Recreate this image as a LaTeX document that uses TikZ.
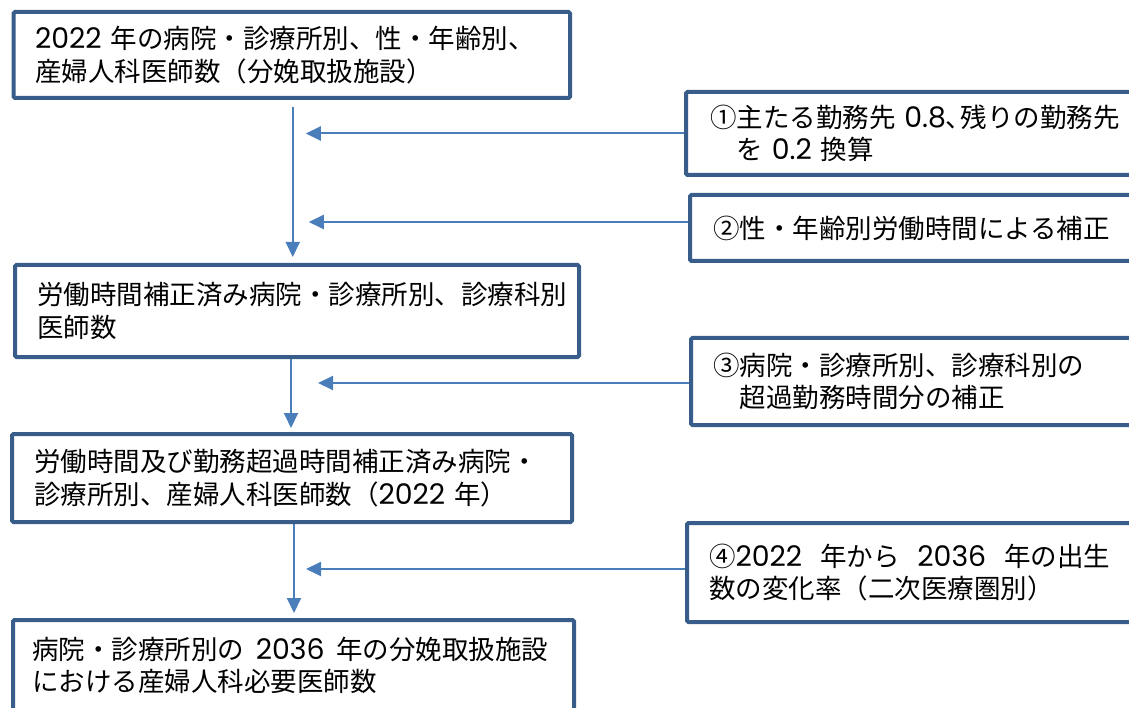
\documentclass[tikz,border=0pt]{standalone}
\usepackage{fontspec}
\setmainfont{Noto Sans CJK JP}
\newfontfamily\lat[Scale=1.07]{Poppins}
\usetikzlibrary{arrows.meta,calc}
\definecolor{bordc}{HTML}{385D8A}
\definecolor{arrc}{HTML}{4A7EBB}
\newcommand\nm[1]{{\lat #1}}
\begin{document}
\begin{tikzpicture}[x=1pt,y=-1pt,
  box/.style={draw=bordc, line width=4pt, fill=white, anchor=north west, align=left,
    inner ysep=0pt, outer sep=0pt, rounded corners=1.5pt, text=black,
    font=\fontsize{26.5}{32.5}\selectfont},
  flow/.style={draw=arrc, line width=2pt, -{Triangle[length=15pt,width=14pt]}}]
\useasboundingbox (0,0) rectangle (1129,708);

\node[box, minimum width=556.5pt, minimum height=86pt, inner xsep=21.5pt, text width=513.5pt] (a) at (13.5,12)
  {\nm{2022} 年の病院・診療所別、性・年齢別、\\産婦人科医師数（分娩取扱施設）};
\node[box, minimum width=470pt, minimum height=83pt, inner xsep=24pt, text width=422pt] (b1) at (686,92)
  {①主たる勤務先~\nm{0.8}、\kern-0.45em 残りの勤務先\\　を \nm{0.2} 換算};
\node[box, minimum width=450pt, minimum height=66pt, inner xsep=23pt, text width=404pt] (b2) at (690,195)
  {②性・年齢別労働時間による補正};
\node[box, minimum width=564pt, minimum height=92pt, inner xsep=22pt, text width=520pt] (c) at (15,265)
  {労働時間補正済み病院・診療所別、診療科別\\医師数};
\node[box, minimum width=449pt, minimum height=87pt, inner xsep=22pt, text width=405pt] (b3) at (691,338)
  {③病院・診療所別、診療科別の\\　超過勤務時間分の補正};
\node[box, minimum width=560pt, minimum height=88pt, inner xsep=22pt, text width=516pt] (d) at (12,434)
  {労働時間及び勤務超過時間補正済み病院・\\診療所別、産婦人科医師数（\nm{2022} 年）};
\node[box, minimum width=453pt, minimum height=99pt, inner xsep=22pt, text width=409pt] (b4) at (687,523)
  {④\nm{2022}\hspace{9pt} 年から\hspace{9pt} \nm{2036}\hspace{9pt} 年の出生\\数の変化率（二次医療圏別）};
\node[box, minimum width=561pt, minimum height=91pt, inner xsep=19pt, text width=523pt] (e) at (13,620)
  {病院・診療所別の\hspace{3pt} \nm{2036}\hspace{3pt} 年の分娩取扱施設\\における産婦人科必要医師数};

% vertical flow
\draw[flow] ($(a.south)+(1,9)$) -- ($(a.south |- c.north)+(1,-8)$);
\draw[flow] ($(c.south)+(-6,2)$) -- ($(d.north -| c.south)+(-6,-6)$);
\draw[flow] ($(d.south)+(2,2)$) -- ($(e.north -| d.south)+(2,-7)$);

% side inputs
\draw[flow] ([xshift=-2pt]b1.west) -- ($(b1.west -| a.south)+(14,0)$);
\draw[flow] ([xshift=-2pt,yshift=6pt]b2.west) -- ($(b2.west -| a.south)+(17,-6)$);
\draw[flow] ([xshift=-2pt,yshift=-1.5pt]b3.west) -- ($(b3.west -| c.south)+(21,1.5)$);
\draw[flow] ([xshift=-2pt,yshift=3.5pt]b4.west) -- ($(b4.west -| d.south)+(14,-3.5)$);
\end{tikzpicture}
\end{document}
